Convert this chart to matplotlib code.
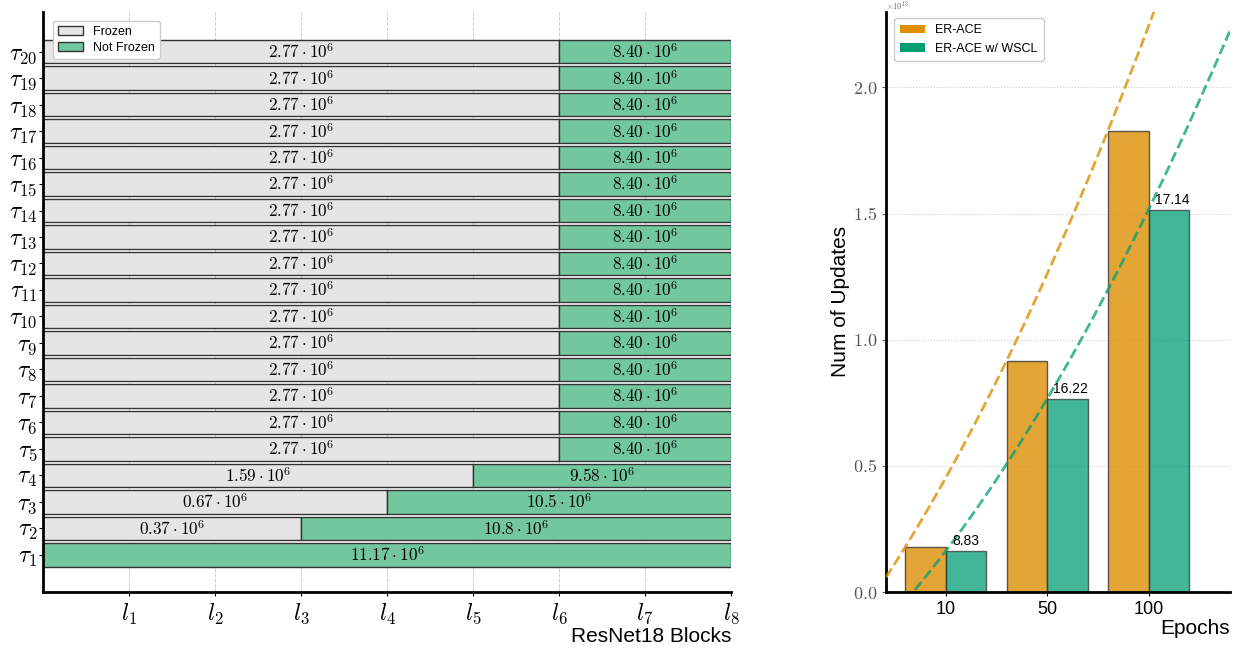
import numpy as np
import matplotlib
matplotlib.use('Agg')
import matplotlib.pyplot as plt
from matplotlib.patches import Patch
from matplotlib.ticker import FuncFormatter

plt.rcParams['font.family'] = ['Liberation Sans', 'DejaVu Sans']
plt.rcParams['mathtext.fontset'] = 'cm'

# left panel: frozen blocks per task
tasks = list(range(1, 21))
frozen_upto = [0, 3, 4, 5] + [6] * 16
frozen_params = [None, '0.37', '0.67', '1.59'] + ['2.77'] * 16
trained_params = ['11.17', '10.8', '10.5', '9.58'] + ['8.40'] * 16
n_blocks = 8

# right panel: number of updates
epochs = ['10', '50', '100']
er_ace = [0.179e13, 0.917e13, 1.829e13]
er_ace_wscl = [0.163e13, 0.766e13, 1.516e13]
wscl_labels = ['8.83', '16.22', '17.14']

c_frozen = '#e5e5e5'
c_train = '#73c79f'
c_orange = '#de8f05'
c_green = '#029e73'

fig = plt.figure(figsize=(12.42, 6.49), dpi=100)
ax1 = fig.add_axes([0.0346, 0.0878, 0.554, 0.894])
ax2 = fig.add_axes([0.7134, 0.0878, 0.2766, 0.894])

# ---- left
h = 0.9
for t, f, fp, tp in zip(tasks, frozen_upto, frozen_params, trained_params):
    if f > 0:
        ax1.barh(t, f, height=h, left=0, color=c_frozen, edgecolor='#333333', lw=1, zorder=2)
        ax1.text(f / 2, t, rf'${fp} \cdot 10^6$', ha='center', va='center', fontsize=12.3, zorder=3)
    ax1.barh(t, n_blocks - f, height=h, left=f, color=c_train, edgecolor='#333333', lw=1, zorder=2)
    ax1.text(f + (n_blocks - f) / 2, t, rf'${tp} \cdot 10^6$', ha='center', va='center', fontsize=12.3, zorder=3)

ax1.set_xlim(0, n_blocks)
ax1.set_ylim(-0.4, 21.5)
ax1.set_xticks(range(1, n_blocks + 1))
ax1.set_xticklabels([rf'$l_{{{i}}}$' for i in range(1, n_blocks + 1)], fontsize=17)
ax1.set_yticks(tasks)
ax1.set_yticklabels([rf'$\tau_{{{t}}}$' for t in tasks], fontsize=17)
ax1.tick_params(axis='y', length=3, pad=1)
ax1.tick_params(axis='x', length=3, pad=4)
ax1.grid(axis='x', ls='--', color='#cccccc', lw=0.7, zorder=0)
ax1.set_xlabel('ResNet18 Blocks', loc='right', fontsize=15, labelpad=0)
for s in ['top', 'right']:
    ax1.spines[s].set_visible(False)
for s in ['left', 'bottom']:
    ax1.spines[s].set_linewidth(2)
ax1.legend(handles=[Patch(facecolor=c_frozen, edgecolor='#333333', label='Frozen'),
                    Patch(facecolor=c_train, edgecolor='#333333', label='Not Frozen')],
           loc='upper left', bbox_to_anchor=(0.005, 0.995), fontsize=9, framealpha=1,
           handlelength=2.0, borderpad=0.4, labelspacing=0.3)

# ---- right
x = np.arange(len(epochs))
w = 0.4
ax2.bar(x - w / 2, er_ace, w, color=c_orange, alpha=0.8, edgecolor='#333333', lw=1, zorder=2)
ax2.bar(x + w / 2, er_ace_wscl, w, color=c_green, alpha=0.75, edgecolor='#333333', lw=1, zorder=2)
for xi, v, lab in zip(x, er_ace_wscl, wscl_labels):
    ax2.text(xi + 0.06, v + 0.01e13, lab, ha='left', va='bottom', fontsize=10, zorder=4)

xlim = (-0.59, 2.8)
xs = np.linspace(xlim[0], xlim[1], 200)
po = np.polyfit(x - w, er_ace, 2)
pg = np.polyfit(x, er_ace_wscl, 2)
ax2.plot(xs, np.polyval(po, xs), '--', color=c_orange, alpha=0.8, lw=2, zorder=3)
ax2.plot(xs, np.polyval(pg, xs), '--', color=c_green, alpha=0.75, lw=2, zorder=3)

ax2.set_xlim(*xlim)
ax2.set_ylim(0, 2.3e13)
ax2.set_xticks(x)
ax2.set_xticklabels(epochs, fontsize=13)
ax2.set_yticks(np.arange(0, 2.1e13, 0.5e13))
ax2.yaxis.set_major_formatter(FuncFormatter(lambda v, p: rf'${v / 1e13:.1f}$'))
ax2.tick_params(axis='y', labelsize=13, length=3, colors='#555555', labelcolor='#555555')
ax2.tick_params(axis='x', length=3)
ax2.text(0, 1.0, r'$\times10^{13}$', transform=ax2.transAxes, fontsize=6, color='#666666',
         ha='left', va='bottom')
ax2.grid(axis='y', ls=':', color='#cccccc', lw=0.8, zorder=0)
ax2.set_ylabel('Num of Updates', fontsize=15, labelpad=2)
ax2.set_xlabel('Epochs', loc='right', fontsize=15, labelpad=1)
for s in ['top', 'right']:
    ax2.spines[s].set_visible(False)
for s in ['left', 'bottom']:
    ax2.spines[s].set_linewidth(2)
ax2.legend(handles=[Patch(facecolor=c_orange, label='ER-ACE'),
                    Patch(facecolor=c_green, label='ER-ACE w/ WSCL')],
           loc='upper left', bbox_to_anchor=(0.005, 1.0), fontsize=9, framealpha=1,
           handlelength=2.0, borderpad=0.5)

fig.savefig('out.png', dpi=100)
